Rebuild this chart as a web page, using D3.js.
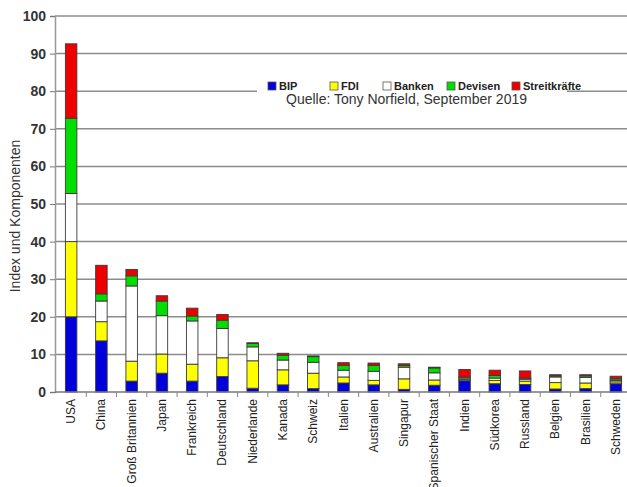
<!DOCTYPE html>
<html>
<head>
<meta charset="utf-8">
<script src="https://cdn.jsdelivr.net/npm/d3@7"></script>
<style>
  body { margin: 0; background: #fff; }
  text { font-family: "Liberation Sans", Arial, sans-serif; }
</style>
</head>
<body>
<div id="viz"></div>
<script>
const width = 627;
const height = 487;

const categories = ['USA', 'China', 'Groß Britannien', 'Japan', 'Frankreich', 'Deutschland',
  'Niederlande', 'Kanada', 'Schweiz', 'Italien', 'Australien', 'Singapur',
  'Spanischer Staat', 'Indien', 'Südkorea', 'Russland', 'Belgien', 'Brasilien', 'Schweden'];

const seriesNames = ['BIP', 'FDI', 'Banken', 'Devisen', 'Streitkräfte'];

// values, one entry per country
const bip = [20, 13.6, 2.9, 5.0, 2.9, 4.1, 1.0, 1.9, 0.9, 2.4, 1.9, 0.7, 1.8, 3.0, 2.2, 2.0, 0.8, 0.9, 2.2];
const fdi = [20, 5.1, 5.3, 5.1, 4.5, 5.0, 7.3, 4.0, 4.1, 1.6, 1.2, 2.8, 1.4, 0.3, 0.9, 0.9, 1.7, 1.5, 0.5];
const banken = [12.8, 5.5, 20, 10.2, 11.5, 7.8, 3.7, 2.6, 2.9, 1.8, 2.4, 3.1, 1.9, 0.4, 0.6, 0.5, 1.5, 1.5, 0.4];
const devisen = [20, 1.9, 2.7, 3.9, 1.3, 2.2, 0.9, 1.3, 1.5, 1.3, 1.6, 0.5, 1.3, 0.3, 0.7, 0.3, 0.3, 0.4, 0.4];
const streitkraefte = [19.8, 7.6, 1.7, 1.4, 2.1, 1.5, 0.2, 0.5, 0.2, 0.7, 0.6, 0.4, 0.2, 2.0, 1.4, 1.9, 0.3, 0.3, 0.7];

const yTicks = [0, 10, 20, 30, 40, 50, 60, 70, 80, 90, 100];

const colors = ['#0000dd', '#ffff00', '#ffffff', '#00dd00', '#ee0000'];

const marginLeft = 55;
const plotTop = 16;
const plotBottom = 392;
const barW = 11.5;

// table for the stack
const table = categories.map((c, i) => ({
  country: c,
  'BIP': bip[i],
  'FDI': fdi[i],
  'Banken': banken[i],
  'Devisen': devisen[i],
  'Streitkräfte': streitkraefte[i],
}));

const svg = d3.select('#viz')
  .append('svg')
  .attr('width', width)
  .attr('height', height);

const x = d3.scaleBand()
  .domain(categories)
  .range([56, 631])
  .padding(0);

const y = d3.scaleLinear()
  .domain([0, 100])
  .range([plotBottom, plotTop]);

// gridlines
svg.append('g')
  .selectAll('line')
  .data(yTicks.filter((d) => d > 0))
  .enter()
  .append('line')
  .attr('x1', marginLeft)
  .attr('x2', width)
  .attr('y1', (d) => y(d))
  .attr('y2', (d) => y(d))
  .attr('stroke', '#8c8c8c')
  .attr('stroke-width', 1.5);

// y axis
const yAxis = d3.axisLeft(y).tickValues(yTicks).tickSize(5).tickPadding(4);
const yG = svg.append('g')
  .attr('transform', `translate(${marginLeft},0)`)
  .call(yAxis);
yG.select('.domain').attr('stroke', '#999').attr('stroke-width', 1.5);
yG.selectAll('.tick line').attr('stroke', '#777');
yG.selectAll('.tick text')
  .attr('font-size', 14)
  .attr('font-weight', 'bold')
  .attr('fill', '#333');

svg.append('text')
  .attr('transform', `translate(20, 216) rotate(-90)`)
  .attr('text-anchor', 'middle')
  .attr('font-size', 14)
  .attr('fill', '#333')
  .text('Index und Komponenten');

// stacked bars
const stack = d3.stack().keys(seriesNames);
const stacked = stack(table);

svg.append('g')
  .selectAll('g')
  .data(stacked)
  .enter()
  .append('g')
  .attr('fill', (d, i) => colors[i])
  .selectAll('rect')
  .data((d) => d)
  .enter()
  .append('rect')
  .attr('x', (d) => x(d.data.country) + (x.bandwidth() - barW) / 2)
  .attr('width', barW)
  .attr('y', (d) => y(d[1]))
  .attr('height', (d) => y(d[0]) - y(d[1]))
  .attr('stroke', '#3a3a3a')
  .attr('stroke-width', 0.9);

// x axis
svg.append('line')
  .attr('x1', marginLeft)
  .attr('x2', width)
  .attr('y1', plotBottom)
  .attr('y2', plotBottom)
  .attr('stroke', '#777')
  .attr('stroke-width', 1.5);

svg.append('g')
  .selectAll('line')
  .data(categories)
  .enter()
  .append('line')
  .attr('x1', (d) => x(d) + x.bandwidth())
  .attr('x2', (d) => x(d) + x.bandwidth())
  .attr('y1', plotBottom)
  .attr('y2', plotBottom + 5)
  .attr('stroke', '#888');

svg.append('g')
  .selectAll('text')
  .data(categories)
  .enter()
  .append('text')
  .attr('transform', (d) => `translate(${x(d) + x.bandwidth() / 2 + 4}, 399) rotate(-90)`)
  .attr('text-anchor', 'end')
  .attr('font-size', 12)
  .attr('fill', '#222')
  .text((d) => d);

// legend box
svg.append('rect')
  .attr('x', 257)
  .attr('y', 66)
  .attr('width', 310)
  .attr('height', 42)
  .attr('fill', '#fff');

const legendX = [268, 330, 383, 447, 512];
const legend = svg.append('g')
  .selectAll('g')
  .data(seriesNames)
  .enter()
  .append('g')
  .attr('transform', (d, i) => `translate(${legendX[i]}, 82)`);

legend.append('rect')
  .attr('width', 8)
  .attr('height', 8)
  .attr('fill', (d, i) => colors[i])
  .attr('stroke', '#555')
  .attr('stroke-width', 0.8);

legend.append('text')
  .attr('x', 11)
  .attr('y', 8)
  .attr('font-size', 11)
  .attr('font-weight', 'bold')
  .attr('fill', '#222')
  .text((d) => d);

svg.append('text')
  .attr('x', 286)
  .attr('y', 104)
  .attr('font-size', 14)
  .attr('fill', '#333')
  .text('Quelle: Tony Norfield, September 2019');
</script>
</body>
</html>
